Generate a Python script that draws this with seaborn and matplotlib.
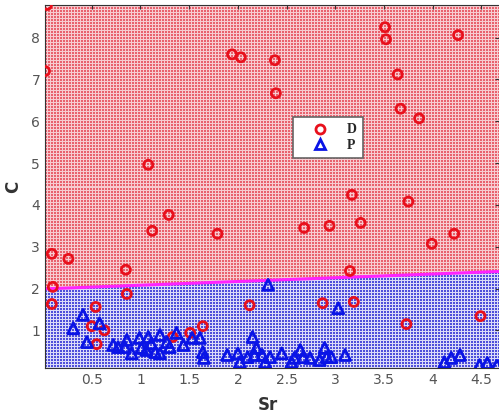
import numpy as np
import pandas as pd
import matplotlib
matplotlib.use("Agg")
import matplotlib.pyplot as plt
from matplotlib.lines import Line2D
import seaborn as sns

# ---- data ----
d_sr = [0.04, 0.02, 0.09, 0.26, 0.10, 0.09, 0.54, 0.50, 0.63, 0.55, 0.85, 0.86,
        1.08, 1.12, 1.29, 1.79, 1.51, 1.64, 1.33, 1.94, 2.03, 2.38, 2.39, 2.12,
        2.68, 2.94, 3.26, 3.15, 3.17, 2.87, 3.19, 3.51, 3.52, 3.64, 3.67, 3.86,
        3.75, 3.73, 3.99, 4.22, 4.26, 4.49]
d_c = [8.78, 7.20, 2.83, 2.71, 2.04, 1.63, 1.56, 1.10, 1.00, 0.67, 2.45, 1.87,
       4.96, 3.38, 3.76, 3.31, 0.94, 1.10, 0.84, 7.60, 7.53, 7.46, 6.67, 1.60,
       3.45, 3.50, 3.57, 2.42, 4.24, 1.65, 1.68, 8.25, 7.96, 7.12, 6.30, 6.07,
       4.08, 1.15, 3.07, 3.31, 8.06, 1.34]

p_sr = [0.31, 0.41, 0.45, 0.58, 0.72, 0.77, 0.86, 0.84, 0.91, 0.99, 1.08, 1.01,
        1.06, 1.11, 1.15, 1.20, 1.20, 1.27, 1.30, 1.37, 1.44, 1.53, 1.61, 1.64,
        1.65, 1.89, 2.00, 2.02, 2.10, 2.31, 3.03, 2.15, 2.19, 2.17, 2.25, 2.28,
        2.33, 2.45, 2.55, 2.58, 2.64, 2.67, 2.74, 2.84, 2.89, 2.91, 2.96, 3.10,
        4.12, 4.19, 4.28, 4.48, 4.56, 4.66]
p_c = [1.05, 1.37, 0.72, 1.17, 0.65, 0.60, 0.77, 0.60, 0.45, 0.82, 0.84, 0.58,
       0.53, 0.69, 0.48, 0.89, 0.45, 0.72, 0.60, 0.94, 0.65, 0.82, 0.82, 0.48,
       0.34, 0.41, 0.45, 0.24, 0.36, 2.09, 1.53, 0.84, 0.58, 0.41, 0.41, 0.24,
       0.36, 0.45, 0.24, 0.34, 0.53, 0.36, 0.34, 0.29, 0.58, 0.36, 0.36, 0.41,
       0.24, 0.34, 0.41, 0.17, 0.22, 0.17]

boundary_sr = [0.0, 4.7]
boundary_c = [1.99, 2.41]

x_ticks = [0.5, 1, 1.5, 2, 2.5, 3, 3.5, 4, 4.5]
y_ticks = [1, 2, 3, 4, 5, 6, 7, 8]
class_labels = ["D", "P"]

# ---- figure ----
sns.set_style("white")
W, H, DPI = 499, 419, 100
fig = plt.figure(figsize=(W / DPI, H / DPI), dpi=DPI)
ax_l, ax_b, ax_w, ax_h = 45, 51, 454, 363  # pixels
ax = fig.add_axes([ax_l / W, ax_b / H, ax_w / W, ax_h / H])
xmin, xmax, ymin, ymax = 0.02, 4.68, 0.1, 8.78
ax.set_xlim(xmin, xmax)
ax.set_ylim(ymin, ymax)

# dotted decision regions (one texel per screen pixel)
cx = xmin + (np.arange(ax_w) + 0.5) / ax_w * (xmax - xmin)
cy = ymax - (np.arange(ax_h) + 0.5) / ax_h * (ymax - ymin)
GX, GY = np.meshgrid(cx, cy)
slope = (boundary_c[1] - boundary_c[0]) / (boundary_sr[1] - boundary_sr[0])
above = GY > boundary_c[0] + slope * (GX - boundary_sr[0])
jj, ii = np.meshgrid(np.arange(ax_w), np.arange(ax_h))
gap = (ii % 3 == 2) | (jj % 3 == 2)
red_dot, red_gap = np.array([232, 98, 110]), np.array([247, 204, 209])
blu_dot, blu_gap = np.array([78, 78, 218]), np.array([218, 218, 248])
img = np.where(above[..., None],
               np.where(gap[..., None], red_gap, red_dot),
               np.where(gap[..., None], blu_gap, blu_dot)).astype(np.uint8)
ax.imshow(img, extent=(xmin, xmax, ymin, ymax), aspect="auto",
          interpolation="nearest", origin="upper", zorder=0)

# boundary line
sns.lineplot(x=boundary_sr, y=boundary_c, color="#ff22ff", linewidth=2.2, ax=ax)

# points
sns.scatterplot(x=d_sr, y=d_c, marker="o", s=42, facecolor="none",
                edgecolor="#e8101c", linewidth=2.0, zorder=5, ax=ax)
sns.scatterplot(x=p_sr, y=p_c, marker="^", s=62, facecolor="none",
                edgecolor="#0a14e6", linewidth=2.0, zorder=5, ax=ax)

ax.set_xticks(x_ticks)
ax.set_xticklabels([("%g" % t) for t in x_ticks])
ax.set_yticks(y_ticks)
ax.tick_params(direction="in", length=3, colors="#333333", labelcolor="#555555",
               labelsize=10, top=True, right=True)
for s in ["left", "top", "bottom"]:
    ax.spines[s].set_color("#333333")
    ax.spines[s].set_linewidth(0.8)
ax.spines["right"].set_visible(False)

ax.set_xlabel("Sr", fontsize=12, fontweight="bold", color="#333333")
ax.set_ylabel("C", fontsize=12, fontweight="bold", color="#333333")
ax.xaxis.set_label_coords(0.49, -0.077)
ax.yaxis.set_label_coords(-0.05, 0.5)

handles = [
    Line2D([], [], marker="o", linestyle="none", markerfacecolor="none",
           markeredgecolor="#e8101c", markeredgewidth=2.0, markersize=6.5),
    Line2D([], [], marker="^", linestyle="none", markerfacecolor="none",
           markeredgecolor="#0a14e6", markeredgewidth=2.0, markersize=7),
]
leg = ax.legend(handles, class_labels, loc="upper left",
                bbox_to_anchor=(0.546, 0.691), borderaxespad=0,
                frameon=True, fancybox=False,
                framealpha=1.0, edgecolor="#666666", handletextpad=0.45,
                borderpad=0.45, labelspacing=0.15, handlelength=3.0,
                prop={"family": "Liberation Serif", "weight": "bold", "size": 10})
leg.get_frame().set_linewidth(1.2)

fig.savefig("out.png", dpi=DPI)
